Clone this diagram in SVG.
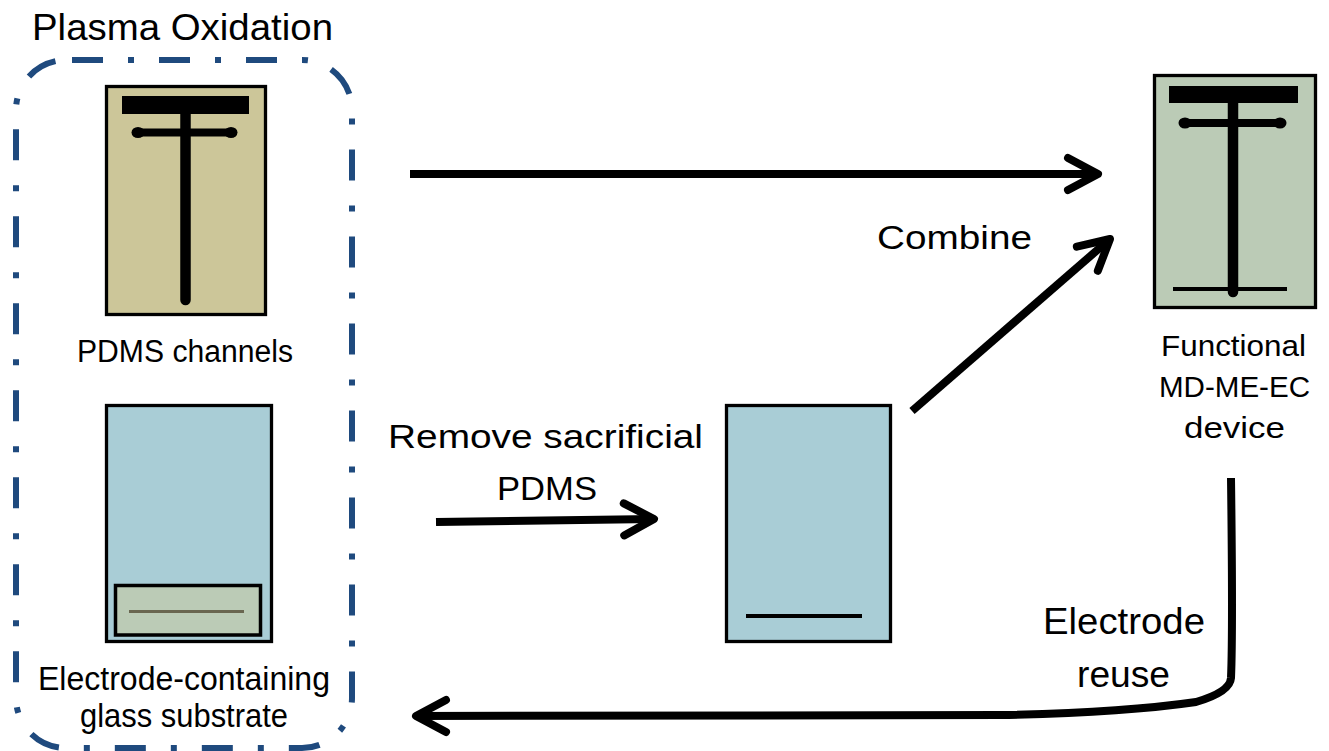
<svg xmlns="http://www.w3.org/2000/svg" width="1329" height="751" viewBox="0 0 1329 751">
  <style>
    .lbl { font-family: "Liberation Sans", Arial, sans-serif; fill: #000; text-anchor: start; }
    .chip { stroke: #000; stroke-width: 3.3; }
    .chan { stroke: #000; stroke-linecap: round; fill: none; }
    .conn { stroke: #000; stroke-width: 8; fill: none; stroke-linecap: butt; stroke-linejoin: round; }
  </style>
  <defs>
    <marker id="head" markerUnits="userSpaceOnUse" markerWidth="80" markerHeight="80" refX="0" refY="0" orient="auto" overflow="visible">
      <path d="M-30,-16 L0,0 L-30,16" fill="none" stroke="#000" stroke-width="8" stroke-linecap="round" stroke-linejoin="round"/>
    </marker>
  </defs>
  <rect width="1329" height="751" fill="#fff"/>

  <!-- plasma oxidation group outline -->
  <g id="plasma-group">
    <rect x="16" y="60" width="336" height="688" rx="50" ry="50" fill="none" stroke="#1F4A7E" stroke-width="6" stroke-dasharray="31 25 6 25" stroke-dashoffset="81"/>
    <text class="lbl" x="32" y="40" font-size="36" textLength="301" lengthAdjust="spacingAndGlyphs">Plasma Oxidation</text>
  </g>

  <!-- PDMS channel layer -->
  <g id="pdms-channels">
    <rect class="chip" x="106.5" y="86.5" width="159" height="228" fill="#CCC699"/>
    <rect x="122" y="96" width="127" height="18" fill="#000"/>
    <line class="chan" x1="185.5" y1="112" x2="185.5" y2="300" stroke-width="10.5"/>
    <line class="chan" x1="138" y1="132.5" x2="231" y2="132.5" stroke-width="8"/>
    <ellipse cx="138" cy="132.5" rx="6.5" ry="5.5" fill="#000"/>
    <ellipse cx="231" cy="132.5" rx="6.5" ry="5.5" fill="#000"/>
    <text class="lbl" x="77" y="362" font-size="31" textLength="216" lengthAdjust="spacingAndGlyphs">PDMS channels</text>
  </g>

  <!-- electrode-containing glass substrate -->
  <g id="glass-substrate">
    <rect class="chip" x="106.5" y="405.5" width="165" height="236" fill="#A9CDD6"/>
    <rect x="115.5" y="585.5" width="145" height="49.5" fill="#BBCBB6" stroke="#000" stroke-width="3.5"/>
    <line x1="129" y1="611.5" x2="244" y2="611.5" stroke="#696650" stroke-width="3"/>
    <text class="lbl" x="38" y="690" font-size="34" textLength="292" lengthAdjust="spacingAndGlyphs">Electrode-containing</text>
    <text class="lbl" x="80" y="727" font-size="34" textLength="208" lengthAdjust="spacingAndGlyphs">glass substrate</text>
  </g>

  <!-- substrate after removing sacrificial PDMS -->
  <g id="bare-substrate">
    <rect class="chip" x="726.5" y="405.5" width="164" height="236" fill="#A9CDD6"/>
    <line x1="746" y1="616" x2="862" y2="616" stroke="#000" stroke-width="4"/>
  </g>

  <!-- assembled device -->
  <g id="device">
    <rect class="chip" x="1154.5" y="75.5" width="161" height="232" fill="#BBCBB6"/>
    <rect x="1169" y="86" width="129" height="17" fill="#000"/>
    <line class="chan" x1="1233" y1="100" x2="1233" y2="292" stroke-width="10.5"/>
    <line class="chan" x1="1185" y1="123" x2="1280" y2="123" stroke-width="8"/>
    <ellipse cx="1185" cy="123" rx="6.5" ry="5.5" fill="#000"/>
    <ellipse cx="1280" cy="123" rx="6.5" ry="5.5" fill="#000"/>
    <line x1="1173" y1="289" x2="1287" y2="289" stroke="#000" stroke-width="4"/>
    <text class="lbl" x="1161" y="356" font-size="30" textLength="145" lengthAdjust="spacingAndGlyphs">Functional</text>
    <text class="lbl" x="1159" y="397" font-size="30" textLength="151" lengthAdjust="spacingAndGlyphs">MD-ME-EC</text>
    <text class="lbl" x="1184" y="438" font-size="30" textLength="101" lengthAdjust="spacingAndGlyphs">device</text>
  </g>

  <!-- process arrows -->
  <g id="connectors">
    <line class="conn" x1="410" y1="174" x2="1098" y2="174" marker-end="url(#head)"/>
    <line class="conn" x1="912" y1="411" x2="1110" y2="239" marker-end="url(#head)"/>
    <line class="conn" x1="436" y1="522" x2="654" y2="519" marker-end="url(#head)"/>
    <path class="conn" d="M1231,478 C1232,560 1233,630 1231,678 Q1230,692 1196,702 Q1120,713 1000,715 L416,716" marker-end="url(#head)"/>
    <text class="lbl" x="877" y="249" font-size="34" textLength="155" lengthAdjust="spacingAndGlyphs">Combine</text>
    <text class="lbl" x="388" y="448" font-size="34" textLength="315" lengthAdjust="spacingAndGlyphs">Remove sacrificial</text>
    <text class="lbl" x="497" y="500" font-size="34" textLength="100" lengthAdjust="spacingAndGlyphs">PDMS</text>
    <text class="lbl" x="1043" y="634" font-size="37" textLength="162" lengthAdjust="spacingAndGlyphs">Electrode</text>
    <text class="lbl" x="1077" y="687" font-size="37" textLength="93" lengthAdjust="spacingAndGlyphs">reuse</text>
  </g>
</svg>
